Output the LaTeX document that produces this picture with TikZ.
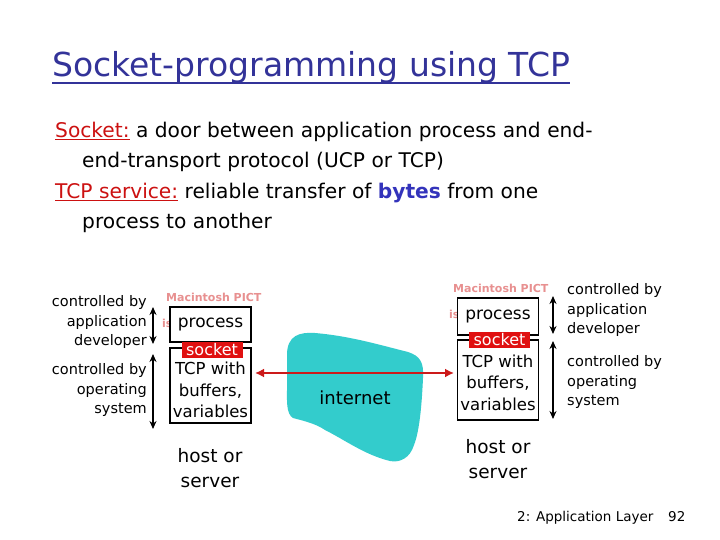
\documentclass[tikz,border=0pt]{standalone}
\usepackage{fontspec}
\setmainfont{DejaVu Sans}
\usetikzlibrary{arrows.meta}
\definecolor{titleblue}{HTML}{333399}
\definecolor{kwred}{HTML}{CC1111}
\definecolor{bytesblue}{HTML}{3333BB}
\definecolor{sockred}{HTML}{E01010}
\definecolor{netcyan}{HTML}{33CCCC}
\definecolor{arrred}{HTML}{CC1A1A}
\definecolor{pictpink}{HTML}{E89090}
\tikzset{
  body/.style={anchor=base west, inner sep=0pt, font=\fontsize{20.2}{26}\selectfont},
  boxnode/.style={draw=black, line width=1.6pt, fill=white, minimum width=81pt, inner sep=0pt, align=center},
  boxtext/.style={inner sep=0pt, align=center, font=\fontsize{16.5}{21.5}\selectfont},
  socklabel/.style={fill=sockred, text=white, inner sep=0pt, minimum width=61pt, minimum height=16pt, font=\fontsize{16}{16}\selectfont},
  ctrl/.style={inner sep=0pt, font=\fontsize{14.5}{19.5}\selectfont},
  pict/.style={anchor=base west, inner sep=0pt, text=pictpink, font=\bfseries\fontsize{11}{11}\selectfont},
  vline/.style={line width=1.8pt, {Stealth[length=8pt,width=7pt]}-{Stealth[length=8pt,width=7pt]}},
  hostlbl/.style={inner sep=0pt, align=center, font=\fontsize{18.5}{24.5}\selectfont}
}
\begin{document}
\begin{tikzpicture}[x=1pt,y=-1pt]
\useasboundingbox[fill=white] (0,0) rectangle (720,540);

% title
\node[anchor=base west, inner sep=0pt, text=titleblue, font=\fontsize{33}{40}\selectfont] (title) at (52,77) {Socket-programming using TCP};
\draw[titleblue, line width=1.5pt] ([yshift=-6pt]title.base west) -- ([yshift=-6pt]title.base east);

% body
\node[body] (l1) at (55,138) {\textcolor{kwred}{\underline{Socket:}} a door between application process and end-};
\node[body] (l2) at (82,168) {end-transport protocol (UCP or TCP)};
\node[body] (l3) at (55,199) {\textcolor{kwred}{\underline{TCP service:}} reliable transfer of \textcolor{bytesblue}{\bfseries bytes} from one};
\node[body] (l4) at (82,229) {process to another};

% internet cloud
\fill[netcyan] (287,355) .. controls (287,335) and (300,332) .. (315,333)
  .. controls (350,336) and (380,345) .. (408,352)
  .. controls (420,356) and (424,362) .. (423,378)
  .. controls (422,400) and (420,430) .. (414,445)
  .. controls (410,458) and (400,463) .. (390,461)
  .. controls (365,455) and (345,440) .. (325,430)
  .. controls (315,423) and (300,420) .. (293,418)
  .. controls (286,414) and (287,400) .. (287,390) -- cycle;
\node[inner sep=0pt, font=\fontsize{18}{18}\selectfont] (net) at (355,398) {internet};

% Macintosh PICT artefacts
\node[pict] (pictL) at (166,301) {Macintosh PICT};
\node[pict] (isL) at (162,327) {is};
\node[pict] (pictR) at (453,292) {Macintosh PICT};
\node[pict] (isR) at (449,318) {is};

% left host
\node[boxnode, minimum height=35pt, font=\fontsize{17}{17}\selectfont] (lproc) at (210.5,324.5) {process};
\node[boxnode, minimum height=75pt] (ltcp) at (210.5,385.5) {};
\node[boxtext] (ltcptext) at (210.5,390) {TCP with\\buffers,\\variables};
\node[socklabel] (lsock) at (212,350) {socket};

% right host
\node[boxnode, minimum height=37pt, font=\fontsize{17}{17}\selectfont] (rproc) at (498,316.5) {process};
\node[boxnode, minimum height=80pt] (rtcp) at (498,380) {};
\node[boxtext] (rtcptext) at (498,382.5) {TCP with\\buffers,\\variables};
\node[socklabel] (rsock) at (499.5,340) {socket};

% red connection
\coordinate (la) at (255,373);
\coordinate (ra) at (454,373);
\draw[arrred, line width=2.6pt, {Latex[length=9pt,width=9pt]}-{Latex[length=9pt,width=9pt]}] (la) -- (ra);

% left control arrows
\coordinate (lat) at (153,307);
\coordinate (lab) at (153,344);
\coordinate (lot) at (153,354);
\coordinate (lob) at (153,429);
\draw[vline] (lat) -- (lab);
\draw[vline] (lot) -- (lob);
\node[ctrl, anchor=east, align=right] (lapp) at (147,322) {controlled by\\application\\developer};
\node[ctrl, anchor=east, align=right] (los) at (147,390) {controlled by\\operating\\system};

% right control arrows
\coordinate (rat) at (553,296);
\coordinate (rab) at (553,334);
\coordinate (rot) at (553,341);
\coordinate (rob) at (553,419);
\draw[vline] (rat) -- (rab);
\draw[vline] (rot) -- (rob);
\node[ctrl, anchor=west, align=left] (rapp) at (567,310) {controlled by\\application\\developer};
\node[ctrl, anchor=west, align=left] (ros) at (567,382) {controlled by\\operating\\system};

% host or server
\node[hostlbl] (lhost) at (210,468) {host or\\server};
\node[hostlbl] (rhost) at (498,459) {host or\\server};

% footer
\node[anchor=base west, inner sep=0pt, font=\fontsize{13.5}{14}\selectfont] (foot) at (517,521) {2: Application Layer};
\node[anchor=base west, inner sep=0pt, font=\fontsize{13.5}{14}\selectfont] (page) at (668,521) {92};
\end{tikzpicture}
\end{document}
